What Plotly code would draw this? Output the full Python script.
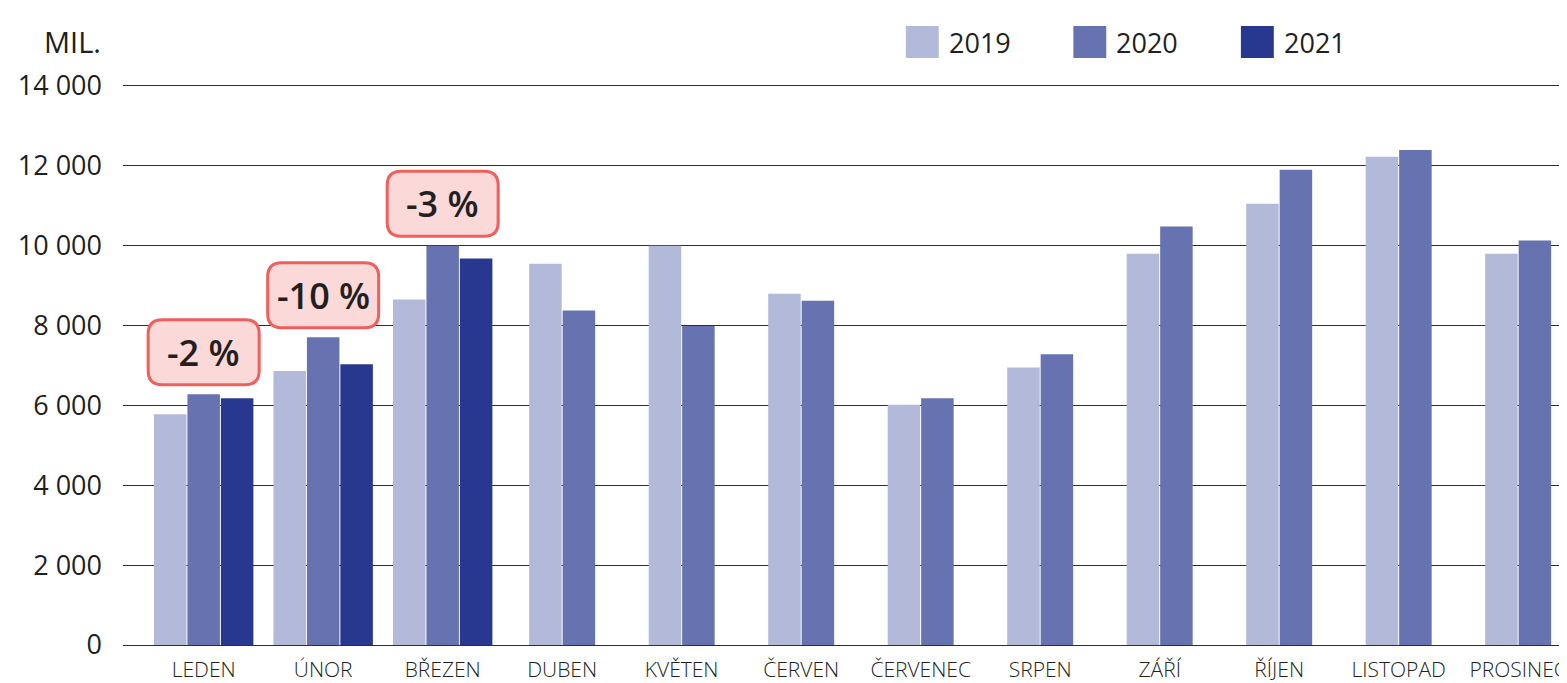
import plotly.graph_objects as go

months = ["LEDEN", "ÚNOR", "BŘEZEN", "DUBEN", "KVĚTEN", "ČERVEN", "ČERVENEC",
          "SRPEN", "ZÁŘÍ", "ŘÍJEN", "LISTOPAD", "PROSINEC"]
years = ["2019", "2020", "2021"]
v2019 = [5780, 6860, 8650, 9550, 10000, 8800, 6020, 6950, 9800, 11050, 12230, 9800]
v2020 = [6280, 7710, 10000, 8380, 7990, 8620, 6180, 7280, 10480, 11900, 12400, 10130]
v2021 = [6180, 7030, 9680, None, None, None, None, None, None, None, None, None]
changes = ["-2 %", "-10 %", "-3 %", None, None, None, None, None, None, None, None, None]

colors = ["#b3b9d9", "#6773b0", "#283890"]
series = [v2019, v2020, v2021]

# page body has an 8px margin
PAGE = 8
W, H = 1567 - PAGE, 683 - PAGE
L, R, T, B = 123 - PAGE, 0, 83 - PAGE, 37
PW, PH = W - L - R, H - T - B
FONT = "Open Sans"
TXT = "#231f20"

pitch = 0.28
bw = 0.272

n_per_month = [sum(1 for s in series if s[i] is not None) for i in range(len(months))]

fig = go.Figure()
for j, (name, vals, col) in enumerate(zip(years, series, colors)):
    offs = [(j - n / 2) * pitch + (pitch - bw) / 2 for n in n_per_month]
    fig.add_trace(go.Bar(
        x=list(range(len(months))), y=vals, name=name,
        marker=dict(color=col, line=dict(width=0)),
        width=bw, offset=offs, showlegend=False,
    ))

# change labels in rounded boxes
hw, hh, r, dy = 55.5, 32.5, 14, 42
path = (f"M {-hw + r},{dy + hh} L {hw - r},{dy + hh} Q {hw},{dy + hh} {hw},{dy + hh - r} "
        f"L {hw},{dy - hh + r} Q {hw},{dy - hh} {hw - r},{dy - hh} "
        f"L {-hw + r},{dy - hh} Q {-hw},{dy - hh} {-hw},{dy - hh + r} "
        f"L {-hw},{dy + hh - r} Q {-hw},{dy + hh} {-hw + r},{dy + hh} Z")
for i, lab in enumerate(changes):
    if lab is None:
        continue
    top = max(s[i] for s in series if s[i] is not None)
    fig.add_shape(type="path", xref="x", yref="y", xsizemode="pixel", ysizemode="pixel",
                  xanchor=i, yanchor=top, path=path,
                  fillcolor="#fbd9d8", line=dict(color="#ef5f5b", width=3))
    fig.add_annotation(x=i, y=top, yshift=dy, text=lab, showarrow=False,
                       font=dict(family=FONT, size=36, color=TXT, weight=600))

def px_x(p):
    return (p - PAGE - L) / PW

def px_y(p):
    return (H - B - (p - PAGE)) / PH

# manual legend
for j, (name, col) in enumerate(zip(years, colors)):
    x0 = 908 + 168 * j
    fig.add_shape(type="rect", xref="paper", yref="paper",
                  x0=px_x(x0), x1=px_x(x0 + 33), y0=px_y(58), y1=px_y(26),
                  fillcolor=col, line=dict(width=0))
    fig.add_annotation(xref="paper", yref="paper", x=px_x(x0 + 41), y=px_y(42),
                       xanchor="left", yanchor="middle", text=name, showarrow=False,
                       font=dict(family=FONT, size=27, color=TXT))

fig.add_annotation(xref="paper", yref="paper", x=px_x(103), y=px_y(41),
                   xanchor="right", yanchor="middle", text="MIL.", showarrow=False,
                   font=dict(family=FONT, size=29, color=TXT))

fig.update_layout(
    width=W, height=H, margin=dict(l=L, r=R, t=T, b=B),
    barmode="overlay", plot_bgcolor="white", paper_bgcolor="white",
    separators=", ", font=dict(family=FONT, color=TXT),
)
fig.update_xaxes(
    range=[-0.675, 11.375], tickvals=list(range(len(months))), ticktext=months,
    showgrid=False, zeroline=False, showline=False, ticks="",
    ticklabelstandoff=10, ticklabeloverflow="allow",
    tickfont=dict(family=FONT, size=21, color=TXT, weight=300),
)
fig.update_yaxes(
    range=[0, 14075], tickvals=list(range(0, 14001, 2000)), tickformat=",d",
    showgrid=True, gridcolor="#2e2e2e", gridwidth=1.3,
    zeroline=True, zerolinecolor="#2e2e2e", zerolinewidth=1.3,
    showline=False, ticks="", ticklabelstandoff=20,
    tickfont=dict(family=FONT, size=27, color=TXT),
)

fig.write_html("out.html")
